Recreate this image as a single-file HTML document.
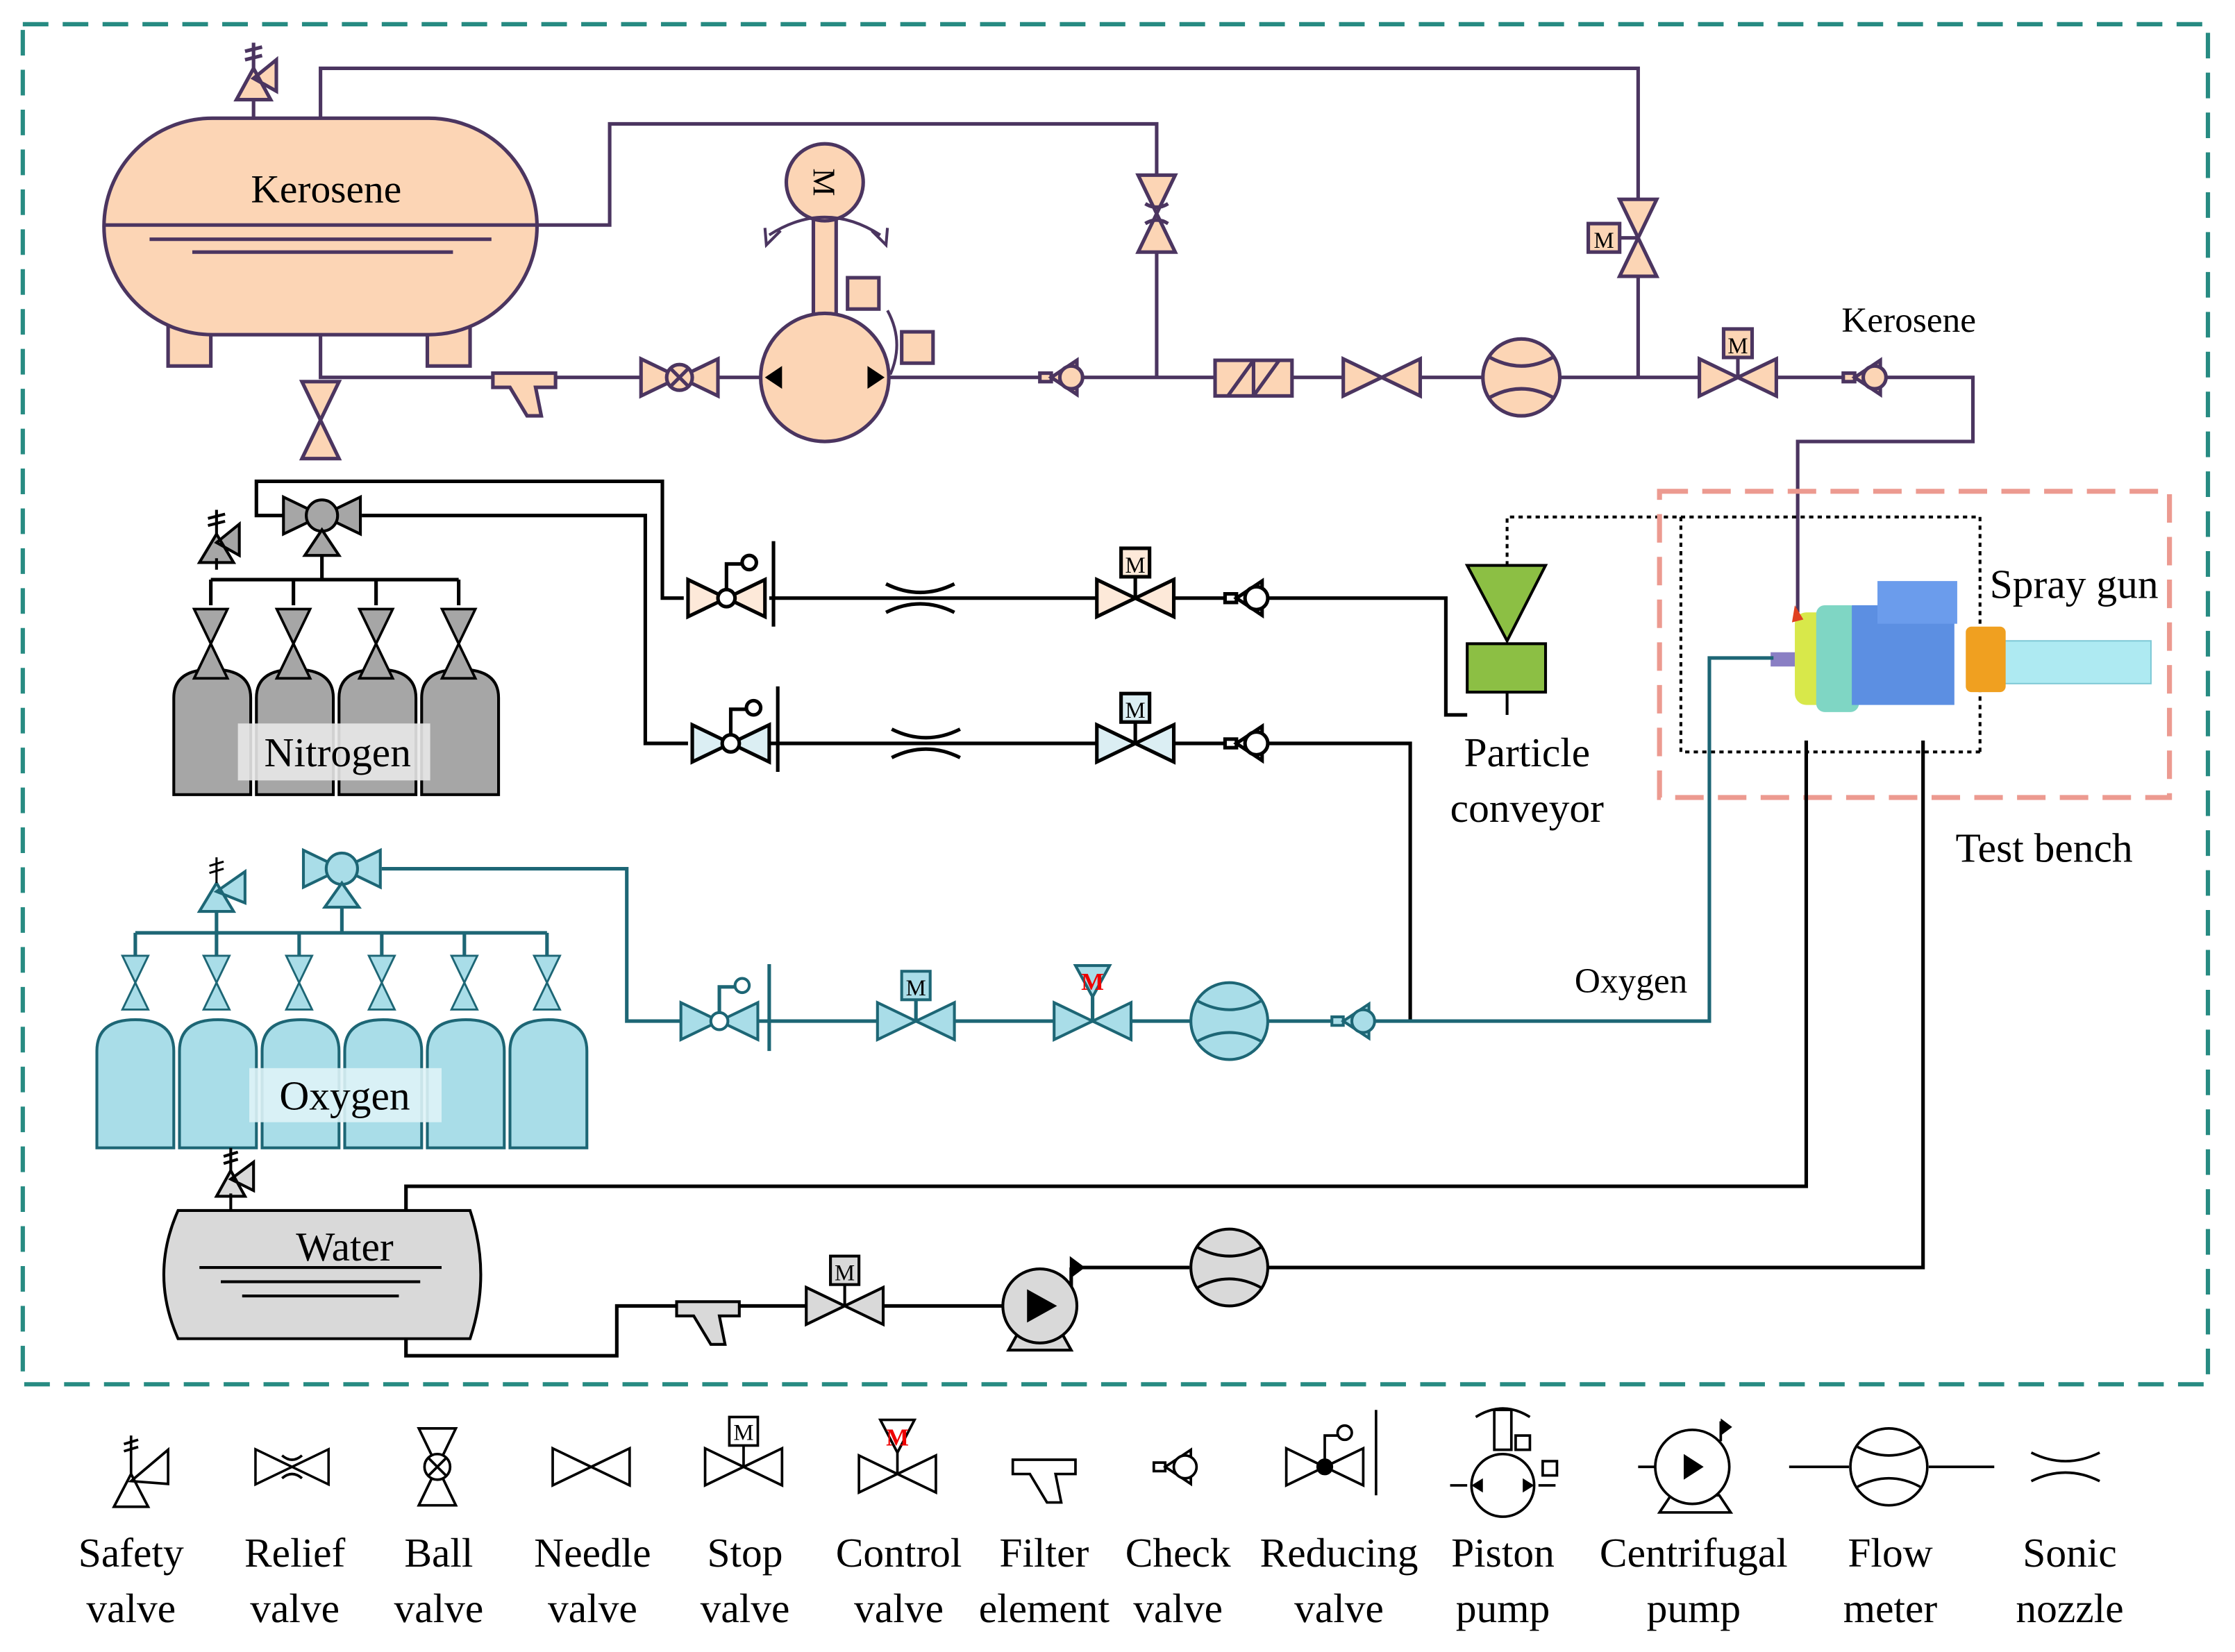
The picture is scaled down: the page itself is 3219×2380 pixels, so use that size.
<!DOCTYPE html>
<html><head><meta charset="utf-8"><style>
html,body{margin:0;padding:0;background:#fff}
svg{display:block}
text{font-family:"Liberation Serif",serif}
</style></head><body>
<svg width="3219" height="2380" viewBox="0 0 1569 1160" preserveAspectRatio="none" xmlns="http://www.w3.org/2000/svg">
<defs>
<path id="bt" d="M-27,-13 L0,0 L-27,13Z M27,-13 L0,0 L27,13Z"/>
<path id="btv" d="M-13,-27 L0,0 L13,-27Z M-13,27 L0,0 L13,27Z"/>
<g id="chk"><path d="M-18,-3h8v6h-8z M-10,0 L8,-12 L8,12Z"/><circle cx="4" cy="0" r="8"/></g>
<g id="fm"><circle r="27"/><path d="M-22,-14 Q0,-2 22,-14 M-22,14 Q0,2 22,14" fill="none"/></g>
<path id="sn" d="M-24,-10 Q0,2 24,-10 M-24,10 Q0,-2 24,10" fill="none"/>
<path id="filt" d="M-22,-8 h44 v10 h-14 l4,20 h-10 l-12,-20 h-12z"/>
</defs>
<rect width="1569" height="1160" fill="#fff"/>
<rect x="16" y="17" width="1534" height="955" fill="none" stroke="#278b82" stroke-width="3" stroke-dasharray="18,10"/>

<!-- ===== Kerosene ===== -->
<g stroke="#4b3560" stroke-width="2.5" fill="none">
<path d="M225,83 V48 H1150 V140 M1150,195 V265"/>
<path d="M377,158 H428 V87 H812 V122 M812,177 V265"/>
<path d="M225,235 V265 H1385 V310 H1262 V430"/>
</g>
<g stroke="#4b3560" stroke-width="2.5" fill="#fcd5b5">
<rect x="118" y="225" width="30" height="32"/><rect x="300" y="225" width="30" height="32"/>
<rect x="73" y="83" width="304" height="152" rx="76" ry="76"/>
<path d="M73,158 H377 M105,168 H345 M135,177 H318" fill="none"/>
<path d="M178,83 V70 M166,70 L178,48 L190,70Z M178,55 L194,42 V64Z" />
<path d="M178,48 V30 M172,36 l12,-3 M172,42 l12,-3" fill="none"/>
<use href="#btv" x="225" y="295"/>
<use href="#filt" x="368" y="270"/>
<use href="#bt" x="477" y="265"/><circle cx="477" cy="265" r="9"/><path d="M471,259 L483,271 M483,259 L471,271" fill="none"/>
<rect x="571" y="150" width="16" height="72"/>
<circle cx="579" cy="128" r="27"/>
<circle cx="579" cy="265" r="45"/>
<rect x="595" y="195" width="22" height="22"/><rect x="633" y="233" width="22" height="22"/>
<use href="#chk" x="748" y="265"/>
<use href="#btv" x="812" y="150"/><path d="M804,143 q8,5 16,0 M804,157 q8,-5 16,0" fill="none"/>
<rect x="853" y="253" width="54" height="25"/><path d="M880,253 V278 M862,278 L880,253 M880,278 L898,253" fill="none"/>
<use href="#bt" x="970" y="265"/>
<use href="#fm" x="1068" y="265"/>
<use href="#btv" x="1150" y="167"/><path d="M1137,167 H1150" fill="none"/><rect x="1115" y="157" width="22" height="20"/>
<use href="#bt" x="1220" y="265"/><path d="M1220,265 V251" fill="none"/><rect x="1210" y="231" width="20" height="20"/>
<use href="#chk" x="1312" y="265"/>
</g>
<path d="M537,265 l12,-8 v16z M621,265 l-12,-8 v16z" fill="#000"/>
<path d="M540,165 q39,-25 78,0 M548,162 l-10,10 l-1,-12 M612,162 l10,10 l1,-12 M623,218 q12,22 2,45" fill="none" stroke="#4b3560" stroke-width="2"/>
<text x="579" y="128" font-size="22" text-anchor="middle" transform="rotate(90 579 128)" dy="8">M</text>
<text x="1126" y="174" font-size="16" text-anchor="middle">M</text>
<text x="1220" y="248" font-size="16" text-anchor="middle">M</text>
<text x="229" y="142" font-size="28" text-anchor="middle">Kerosene</text>
<text x="1340" y="233" font-size="25" text-anchor="middle">Kerosene</text>

<!-- ===== Nitrogen ===== -->
<g stroke="#000" stroke-width="2.5" fill="none">
<path d="M226,380 V407 M148,407 H322 M148,407 V425 M206,407 V425 M264,407 V425 M322,407 V425"/>
<path d="M200,362 H180 V338 H465 V420 H480"/>
<path d="M254,362 H453 V522 H483"/>
<path d="M540,420 H1015 V502 H1030"/>
<path d="M540,522 H990 V717"/>
</g>
<g stroke="#000" stroke-width="2" fill="#a6a6a6">
<path d="M122,558 V490 q0,-20 27,-20 q27,0 27,20 V558Z M180,558 V490 q0,-20 27,-20 q27,0 27,20 V558Z M238,558 V490 q0,-20 27,-20 q27,0 27,20 V558Z M296,558 V490 q0,-20 27,-20 q27,0 27,20 V558Z"/>
<use href="#btv" transform="translate(148 452) scale(0.9)"/>
<use href="#btv" transform="translate(206 452) scale(0.9)"/>
<use href="#btv" transform="translate(264 452) scale(0.9)"/>
<use href="#btv" transform="translate(322 452) scale(0.9)"/>
<use href="#bt" x="226" y="362"/><circle cx="226" cy="362" r="11"/><path d="M214,390 L226,372 L238,390Z"/>
<path d="M152,400 V392 M140,395 L152,375 L164,395Z M152,381 L168,368 V390Z"/>
<path d="M152,375 V358 M146,364 l12,-3 M146,369 l12,-3" fill="none"/>
</g>
<rect x="167" y="508" width="135" height="40" fill="#e8e8e8" opacity="0.9"/>
<text x="237" y="538" font-size="29" text-anchor="middle">Nitrogen</text>
<g stroke="#000" stroke-width="2.5">
<g fill="#fde9d9"><use href="#bt" x="510" y="420"/></g>
<circle cx="510" cy="420" r="6" fill="#fff"/>
<path d="M510,414 V396 H522 M543,380 V440" fill="none"/><circle cx="526" cy="395" r="5" fill="#fff"/>
<use href="#sn" x="646" y="420"/>
<g fill="#fde9d9"><use href="#bt" x="797" y="420"/></g>
<path d="M797,420 V405" fill="none"/><rect x="787" y="385" width="20" height="20" fill="#fde9d9"/>
<g fill="#fff"><use href="#chk" x="878" y="420"/></g>
<g fill="#dbeef3"><use href="#bt" x="513" y="522"/></g>
<circle cx="513" cy="522" r="6" fill="#fff"/>
<path d="M513,516 V498 H525 M546,482 V542" fill="none"/><circle cx="529" cy="497" r="5" fill="#fff"/>
<use href="#sn" x="650" y="522"/>
<g fill="#dbeef3"><use href="#bt" x="797" y="522"/></g>
<path d="M797,522 V507" fill="none"/><rect x="787" y="487" width="20" height="20" fill="#dbeef3"/>
<g fill="#fff"><use href="#chk" x="878" y="522"/></g>
</g>
<text x="797" y="402" font-size="16" text-anchor="middle">M</text>
<text x="797" y="504" font-size="16" text-anchor="middle">M</text>

<!-- Particle conveyor -->
<path d="M1058,397 V363 H1390 V528 M1180,363 V528 H1390" fill="none" stroke="#000" stroke-width="2" stroke-dasharray="3,3"/>
<path d="M1030,397 H1085 L1058,450Z" fill="#8cbf44" stroke="#000" stroke-width="2"/>
<rect x="1030" y="452" width="55" height="34" fill="#8cbf44" stroke="#000" stroke-width="2"/>
<path d="M1058,486 V502" stroke="#000" stroke-width="2"/>
<text x="1072" y="538" font-size="29" text-anchor="middle">Particle</text>
<text x="1072" y="577" font-size="29" text-anchor="middle">conveyor</text>

<!-- Test bench -->
<rect x="1165" y="345" width="358" height="215" fill="none" stroke="#ec9a90" stroke-width="3.5" stroke-dasharray="20,10"/>
<rect x="1405" y="450" width="105" height="30" fill="#aeeaf2" stroke="#7fc9d6"/>
<rect x="1380" y="440" width="28" height="46" fill="#f0a020" rx="4"/>
<rect x="1260" y="430" width="35" height="65" fill="#d8e84a" rx="8"/>
<rect x="1275" y="425" width="30" height="75" fill="#7fd6c4" rx="6"/>
<rect x="1300" y="425" width="72" height="70" fill="#5c8fe2"/>
<rect x="1318" y="408" width="56" height="30" fill="#6b9cec"/>
<rect x="1243" y="458" width="17" height="10" fill="#8a7fc4"/>
<path d="M1260,425 l6,10 l-8,2z" fill="#e04020"/>
<text x="1456" y="420" font-size="29" text-anchor="middle">Spray gun</text>
<text x="1435" y="605" font-size="29" text-anchor="middle">Test bench</text>

<!-- ===== Oxygen ===== -->
<g stroke="#1d6675" stroke-width="2.5" fill="none">
<path d="M152,640 V655 M240,630 V655 M95,655 H384 M95,655 V672 M152,655 V672 M210,655 V672 M268,655 V672 M326,655 V672 M384,655 V672"/>
<path d="M268,610 H440 V717 H480"/>
<path d="M530,717 H990 H1200 V462 H1245"/>
</g>
<g stroke="#1d6675" stroke-width="2" fill="#a9dde8">
<path d="M68,806 V738 q0,-22 27,-22 q27,0 27,22 V806Z M126,806 V738 q0,-22 27,-22 q27,0 27,22 V806Z M184,806 V738 q0,-22 27,-22 q27,0 27,22 V806Z M242,806 V738 q0,-22 27,-22 q27,0 27,22 V806Z M300,806 V738 q0,-22 27,-22 q27,0 27,22 V806Z M358,806 V738 q0,-22 27,-22 q27,0 27,22 V806Z"/>
<use href="#btv" transform="translate(95 690) scale(0.7)"/>
<use href="#btv" transform="translate(152 690) scale(0.7)"/>
<use href="#btv" transform="translate(210 690) scale(0.7)"/>
<use href="#btv" transform="translate(268 690) scale(0.7)"/>
<use href="#btv" transform="translate(326 690) scale(0.7)"/>
<use href="#btv" transform="translate(384 690) scale(0.7)"/>
<use href="#bt" x="240" y="610"/><circle cx="240" cy="610" r="11"/><path d="M228,637 L240,620 L252,637Z"/>
<path d="M140,640 L152,620 L164,640Z M152,626 L172,612 V634Z"/>
<use href="#bt" x="505" y="717"/><circle cx="505" cy="717" r="6" fill="#fff"/>
<use href="#bt" x="643" y="717"/><rect x="633" y="682" width="20" height="20"/>
<use href="#bt" x="767" y="717"/><path d="M755,678 H779 L767,700Z"/>
<use href="#fm" x="863" y="717"/>
<use href="#chk" x="953" y="717"/>
</g>
<path d="M505,711 V693 H517 M540,677 V738 M643,717 V702 M767,717 V700" fill="none" stroke="#1d6675" stroke-width="2.5"/>
<circle cx="521" cy="692" r="5" fill="#fff" stroke="#1d6675" stroke-width="2"/>
<path d="M152,620 V602 M147,608 l10,-3 M147,613 l10,-3" stroke="#000" fill="none" stroke-width="1.5"/>
<rect x="175" y="750" width="135" height="38" fill="#def3f7" opacity="0.9"/>
<text x="242" y="779" font-size="29" text-anchor="middle">Oxygen</text>
<text x="643" y="699" font-size="16" text-anchor="middle">M</text>
<text x="767" y="695" font-size="17" text-anchor="middle" fill="#e00" font-weight="bold">M</text>
<text x="1145" y="697" font-size="25" text-anchor="middle">Oxygen</text>

<!-- ===== Water ===== -->
<g stroke="#000" stroke-width="2.5" fill="none">
<path d="M285,850 V833 H1268 V520"/>
<path d="M285,940 V952 H433 V917 H566 M620,917 H705 M752,890 H835 M890,890 H1350 V520"/>
<path d="M752,917 V890"/>
</g>
<g stroke="#000" stroke-width="2" fill="#d9d9d9">
<path d="M125,850 H330 Q345,895 330,940 H125 Q105,895 125,850Z"/>
<path d="M140,890 H310 M155,900 H295 M170,910 H280" fill="none"/>
<path d="M162,850 V838 M152,840 L162,822 L172,840Z M162,828 L178,816 V836Z"/>
<path d="M162,822 V806 M157,812 l10,-3 M157,817 l10,-3" fill="none"/>
<use href="#filt" x="497" y="922"/>
<use href="#bt" x="593" y="917"/><path d="M593,917 V902" fill="none"/><rect x="583" y="882" width="20" height="20"/>
<path d="M708,948 L718,930 H742 L752,948Z"/>
<circle cx="730" cy="917" r="26"/>
<path d="M722,907 L740,917 L722,927Z" fill="#000"/>
<path d="M752,884 L760,890 L752,896Z" fill="#000"/>
<use href="#fm" x="863" y="890"/>
</g>
<text x="593" y="899" font-size="16" text-anchor="middle">M</text>
<text x="242" y="885" font-size="29" text-anchor="middle">Water</text>

<!-- ===== Legend ===== -->
<g stroke="#000" stroke-width="1.8" fill="#fff">
<path d="M80,1058 L92,1035 L104,1058Z M92,1040 L118,1018 V1042Z M92,1035 V1008" />
<path d="M87,1014 l10,-3 M87,1019 l10,-3" fill="none"/>
<use href="#bt" transform="translate(205 1030) scale(0.95)"/>
<path d="M198,1022 q7,6 14,0 M198,1038 q7,-6 14,0" fill="none"/>
<use href="#btv" x="307" y="1030"/><circle cx="307" cy="1030" r="9"/><path d="M301,1024 L313,1036 M313,1024 L301,1036" fill="none"/>
<use href="#bt" x="415" y="1030"/>
<use href="#bt" x="522" y="1030"/><path d="M522,1030 V1015" fill="none"/><rect x="512" y="995" width="20" height="20"/>
<use href="#bt" x="630" y="1035"/><path d="M618,997 H642 L630,1020Z"/><path d="M630,1020 V1035" fill="none"/>
<use href="#filt" x="733" y="1033"/>
<use href="#chk" x="828" y="1030"/>
<use href="#bt" x="930" y="1030"/><circle cx="930" cy="1030" r="5" fill="#000"/>
<path d="M930,1025 V1008 H940 M966,990 V1050" fill="none"/><circle cx="944" cy="1006" r="5"/>
<rect x="1049" y="990" width="12" height="28"/><circle cx="1055" cy="1043" r="22"/><rect x="1064" y="1008" width="10" height="10"/><rect x="1083" y="1026" width="10" height="10"/>
<path d="M1018,1043 H1030 M1080,1043 H1092 M1036,995 q19,-12 38,0" fill="none"/>
<path d="M1165,1062 L1173,1050 H1207 L1215,1062Z"/>
<circle cx="1188" cy="1030" r="26"/>
<path d="M1150,1030 H1162 M1208,1012 V998" fill="none"/>
<path d="M1256,1030 H1298 M1354,1030 H1400" fill="none"/>
<use href="#fm" x="1326" y="1030"/>
<use href="#sn" x="1450" y="1030"/>
</g>
<path d="M1182,1021 L1196,1030 L1182,1039Z M1208,996 L1216,1002 L1208,1008Z M1033,1043 l8,-5 v10z M1077,1043 l-8,-5 v10z" fill="#000"/>
<text x="522" y="1011" font-size="16" text-anchor="middle">M</text>
<text x="630" y="1015" font-size="17" text-anchor="middle" fill="#e00" font-weight="bold">M</text>
<g font-size="29" text-anchor="middle">
<text x="92" y="1100">Safety</text><text x="92" y="1139">valve</text>
<text x="207" y="1100">Relief</text><text x="207" y="1139">valve</text>
<text x="308" y="1100">Ball</text><text x="308" y="1139">valve</text>
<text x="416" y="1100">Needle</text><text x="416" y="1139">valve</text>
<text x="523" y="1100">Stop</text><text x="523" y="1139">valve</text>
<text x="631" y="1100">Control</text><text x="631" y="1139">valve</text>
<text x="733" y="1100">Filter</text><text x="733" y="1139">element</text>
<text x="827" y="1100">Check</text><text x="827" y="1139">valve</text>
<text x="940" y="1100">Reducing</text><text x="940" y="1139">valve</text>
<text x="1055" y="1100">Piston</text><text x="1055" y="1139">pump</text>
<text x="1189" y="1100">Centrifugal</text><text x="1189" y="1139">pump</text>
<text x="1327" y="1100">Flow</text><text x="1327" y="1139">meter</text>
<text x="1453" y="1100">Sonic</text><text x="1453" y="1139">nozzle</text>
</g>
</svg>
</body></html>
